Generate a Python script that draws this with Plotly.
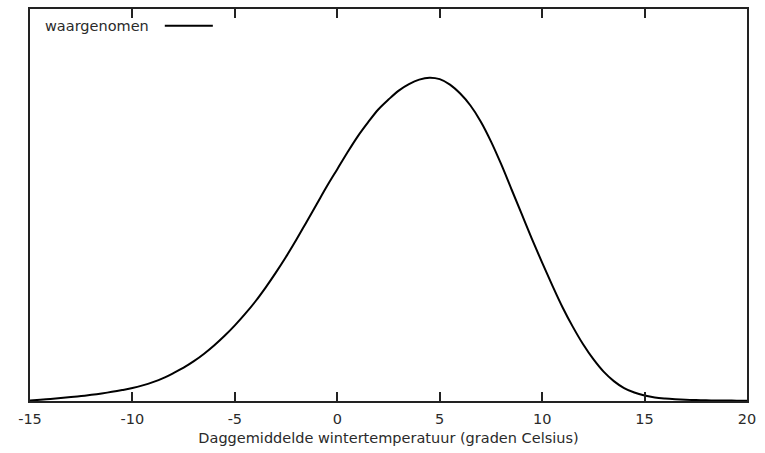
import plotly.graph_objects as go

# Daily mean winter temperature (deg C) and observed relative frequency (arbitrary units)
temperature = [-15, -14.5, -14, -13.5, -13, -12.5, -12, -11.5, -11, -10.5, -10,
               -9.5, -9, -8.5, -8, -7.5, -7, -6.5, -6, -5.5, -5, -4.5, -4, -3.5,
               -3, -2.5, -2, -1.5, -1, -0.5, 0, 0.5, 1, 1.5, 2, 2.5, 3, 3.5, 4,
               4.5, 5, 5.5, 6, 6.5, 7, 7.5, 8, 8.5, 9, 9.5, 10, 10.5, 11, 11.5,
               12, 12.5, 13, 13.5, 14, 14.5, 15, 15.5, 16, 16.5, 17, 17.5, 18,
               18.5, 19, 19.5, 20]
frequency = [0.5, 1.2, 2, 3, 4, 5, 6.2, 7.6, 9.2, 11, 13,
             15.7, 19, 23, 28, 33.5, 40, 47.5, 56, 65.5, 76, 87.5, 100, 114,
             129, 145, 162, 180, 198, 216, 233, 250, 266, 280, 293, 303, 312, 318.5, 323,
             325, 323.5, 318, 309, 297, 281, 261, 238, 213, 188, 163, 139, 116, 94, 74.5,
             57, 42, 29.5, 20, 13, 8.5, 5.5, 3.5, 2.4, 1.7, 1.2, 0.9, 0.7,
             0.55, 0.45, 0.35, 0.3]
tick_vals = [-15, -10, -5, 0, 5, 10, 15, 20]
tick_text = ["-15", "-10", "-5", "0", "5", "10", "15", "20"]
series_name = "waargenomen"
x_title = "Daggemiddelde wintertemperatuur (graden Celsius)"

fig = go.Figure()
fig.add_trace(go.Scatter(
    x=temperature, y=frequency, mode="lines", name=series_name,
    line=dict(color="#000000", width=2, shape="spline", smoothing=1.0),
    showlegend=False, hoverinfo="x+y"))

FAMILY = "DejaVu Sans, Verdana, sans-serif"
TXT = "#2a2a2a"
FS = 14.5
AX = "#222222"

fig.update_layout(
    width=765, height=453,
    margin=dict(l=30, r=18, t=7, b=52),
    paper_bgcolor="white", plot_bgcolor="white",
    font=dict(family=FAMILY, size=FS, color=TXT),
    xaxis=dict(range=[-15, 20], tickvals=tick_vals, ticktext=tick_text,
               ticks="inside", ticklen=9, tickwidth=2, tickcolor=AX,
               showline=True, linecolor=AX, linewidth=2, mirror="allticks",
               showgrid=False, zeroline=False, ticklabelstandoff=4,
               title=dict(text=x_title, font=dict(family=FAMILY, size=FS, color=TXT), standoff=6),
               tickfont=dict(family=FAMILY, size=FS, color=TXT)),
    yaxis=dict(range=[0, 394], showticklabels=False, ticks="",
               showline=True, linecolor=AX, linewidth=2, mirror=True,
               showgrid=False, zeroline=False),
    annotations=[dict(text=series_name, xref="paper", yref="paper",
                      x=0.018, y=0.957, xanchor="left", yanchor="middle",
                      showarrow=False, font=dict(family=FAMILY, size=FS, color=TXT))],
    shapes=[dict(type="line", xref="paper", yref="paper",
                 x0=0.188, x1=0.255, y0=0.957, y1=0.957,
                 line=dict(color="#000000", width=2))],
)

fig.write_html("out.html")
